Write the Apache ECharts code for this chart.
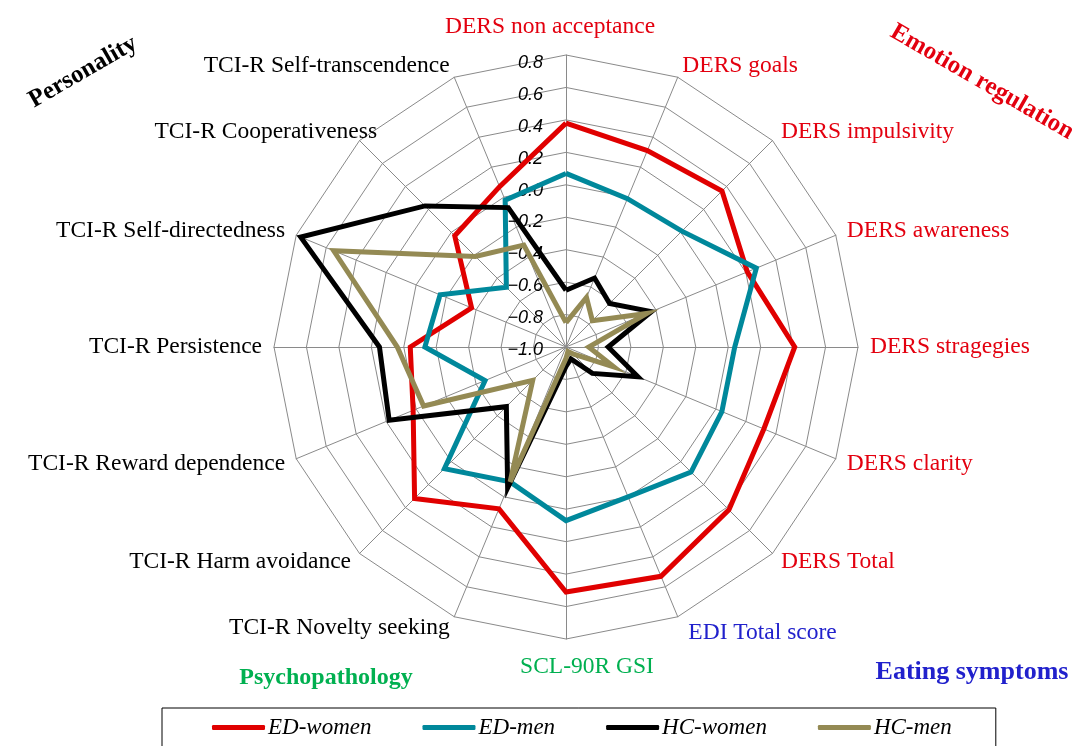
<!DOCTYPE html>
<html>
<head>
<meta charset="utf-8">
<script src="https://cdn.jsdelivr.net/npm/echarts@6/dist/echarts.min.js"></script>
<style>
html,body{margin:0;padding:0;background:#fff;}
#chart{width:1076px;height:746px;}
</style>
</head>
<body>
<div id="chart"></div>
<script>
// Indicators, listed clockwise starting at the top
const indicatorNames = ['DERS non acceptance','DERS goals','DERS impulsivity','DERS awareness','DERS stragegies','DERS clarity','DERS Total','EDI Total score','SCL-90R GSI','TCI-R Novelty seeking','TCI-R Harm avoidance','TCI-R Reward dependence','TCI-R Persistence','TCI-R Self-directedness','TCI-R Cooperativeness','TCI-R Self-transcendence'];
const indicatorGroups = ['emo','emo','emo','emo','emo','emo','emo','eat','psy','per','per','per','per','per','per','per'];
const seriesNames = ['ED-women','ED-men','HC-women','HC-men'];
const edWomen = [0.38,0.31,0.36,0.21,0.41,0.32,0.42,0.53,0.51,0.08,0.32,0.02,-0.04,-0.37,-0.03,0.07];
const edMen   = [0.07,-0.01,0.01,0.27,0.04,0.04,0.09,0.00,0.07,-0.10,0.06,-0.46,-0.13,-0.16,-0.48,-0.02];
const hcWomen = [-0.65,-0.54,-0.62,-0.43,-0.74,-0.52,-0.77,-0.92,-0.88,-0.06,-0.48,0.18,0.15,0.77,0.23,-0.07];
const hcMen   = [-0.85,-0.67,-0.77,-0.46,-0.86,-0.68,-0.94,-0.97,-0.93,-0.10,-0.71,-0.05,0.04,0.55,-0.21,-0.32];
const axisMin = -1.0, axisMax = 0.8, axisStep = 0.2;
const groupTitles = ['Personality','Emotion regulation','Psychopathology','Eating symptoms'];

const groupColor = {emo:'#e3000f', eat:'#2121cc', psy:'#00b050', per:'#000000'};
const seriesColors = ['#e00000','#00889b','#000000','#948a54'];

// ECharts radar runs counter-clockwise; reorder so the reference runs clockwise
const order = [0];
for (let i = indicatorNames.length - 1; i >= 1; i--) order.push(i);
const reorder = arr => order.map(i => arr[i]);

// per-label nudges (rich padding)
const pads = {
  'DERS non acceptance':[0,32,4,0],
  'SCL-90R GSI':[4,0,0,42],
  'TCI-R Cooperativeness':[0,-26,0,0],
  'EDI Total score':[10,0,0,6]
};
const rich = {};
indicatorNames.forEach((n, i) => {
  rich['k' + i] = {
    fontFamily: 'Liberation Serif', fontSize: 23.5,
    color: groupColor[indicatorGroups[i]],
    padding: pads[n] || [0,0,0,0]
  };
});

const chart = echarts.init(document.getElementById('chart'), null, {renderer:'canvas'});
const fmt = v => (v < 0 ? '\u2212' : '') + Math.abs(v).toFixed(1);

chart.setOption({
  backgroundColor: '#ffffff',
  animation: false,
  legend: {
    data: seriesNames,
    left: 162, top: 708,
    padding: [8, 44, 40, 50],
    borderColor: '#000', borderWidth: 1,
    itemWidth: 53, itemHeight: 5, itemGap: 51,
    icon: 'roundRect',
    textStyle: {fontFamily:'Liberation Serif', fontStyle:'italic', fontSize:23, color:'#000', padding:[0,0,0,-2]}
  },
  grid: {left: 566, top: 63, height: 287, width: 2},
  xAxis: {type:'value', show:false},
  yAxis: {
    type:'value', min: axisMin, max: axisMax, interval: axisStep,
    axisLine:{show:false}, axisTick:{show:false}, splitLine:{show:false},
    axisLabel:{margin:23, fontFamily:'Liberation Sans', fontStyle:'italic', fontSize:18, color:'#000', formatter: fmt}
  },
  radar: {
    center: [566, 347], radius: 292,
    startAngle: 90,
    shape: 'polygon',
    splitNumber: Math.round((axisMax - axisMin) / axisStep),
    nameGap: 12,
    indicator: reorder(indicatorNames).map(n => ({name:n, min:axisMin, max:axisMax, color: groupColor[indicatorGroups[indicatorNames.indexOf(n)]]})),
    axisName: {
      fontFamily:'Liberation Serif', fontSize:23.5,
      formatter: (name) => '{k' + indicatorNames.indexOf(name) + '|' + name + '}',
      rich: rich
    },
    axisLine: {lineStyle:{color:'#8a8a8a', width:1}},
    splitLine: {lineStyle:{color:'#8a8a8a', width:1}},
    splitArea: {show:false},
    axisLabel: {show:false}
  },
  series: [{
    type: 'radar',
    symbol: 'none',
    data: [edWomen, edMen, hcWomen, hcMen].map((arr, k) => ({
      name: seriesNames[k],
      value: reorder(arr),
      lineStyle: {color: seriesColors[k], width: 5, join:'miter', miterLimit: 6},
      itemStyle: {color: seriesColors[k]}
    }))
  }],
  graphic: [
    {type:'text', x:83, y:72, rotation: Math.PI/6, style:{text:groupTitles[0], font:'bold 25px "Liberation Serif"', fill:'#000', align:'center', verticalAlign:'middle'}},
    {type:'text', x:982, y:82, rotation: -Math.PI/6, style:{text:groupTitles[1], font:'bold 25px "Liberation Serif"', fill:'#e3000f', align:'center', verticalAlign:'middle'}},
    {type:'text', x:326, y:678, style:{text:groupTitles[2], font:'bold 24px "Liberation Serif"', fill:'#00b050', align:'center', verticalAlign:'middle'}},
    {type:'text', x:972, y:672, style:{text:groupTitles[3], font:'bold 26px "Liberation Serif"', fill:'#2121cc', align:'center', verticalAlign:'middle'}}
  ]
});
</script>
</body>
</html>
